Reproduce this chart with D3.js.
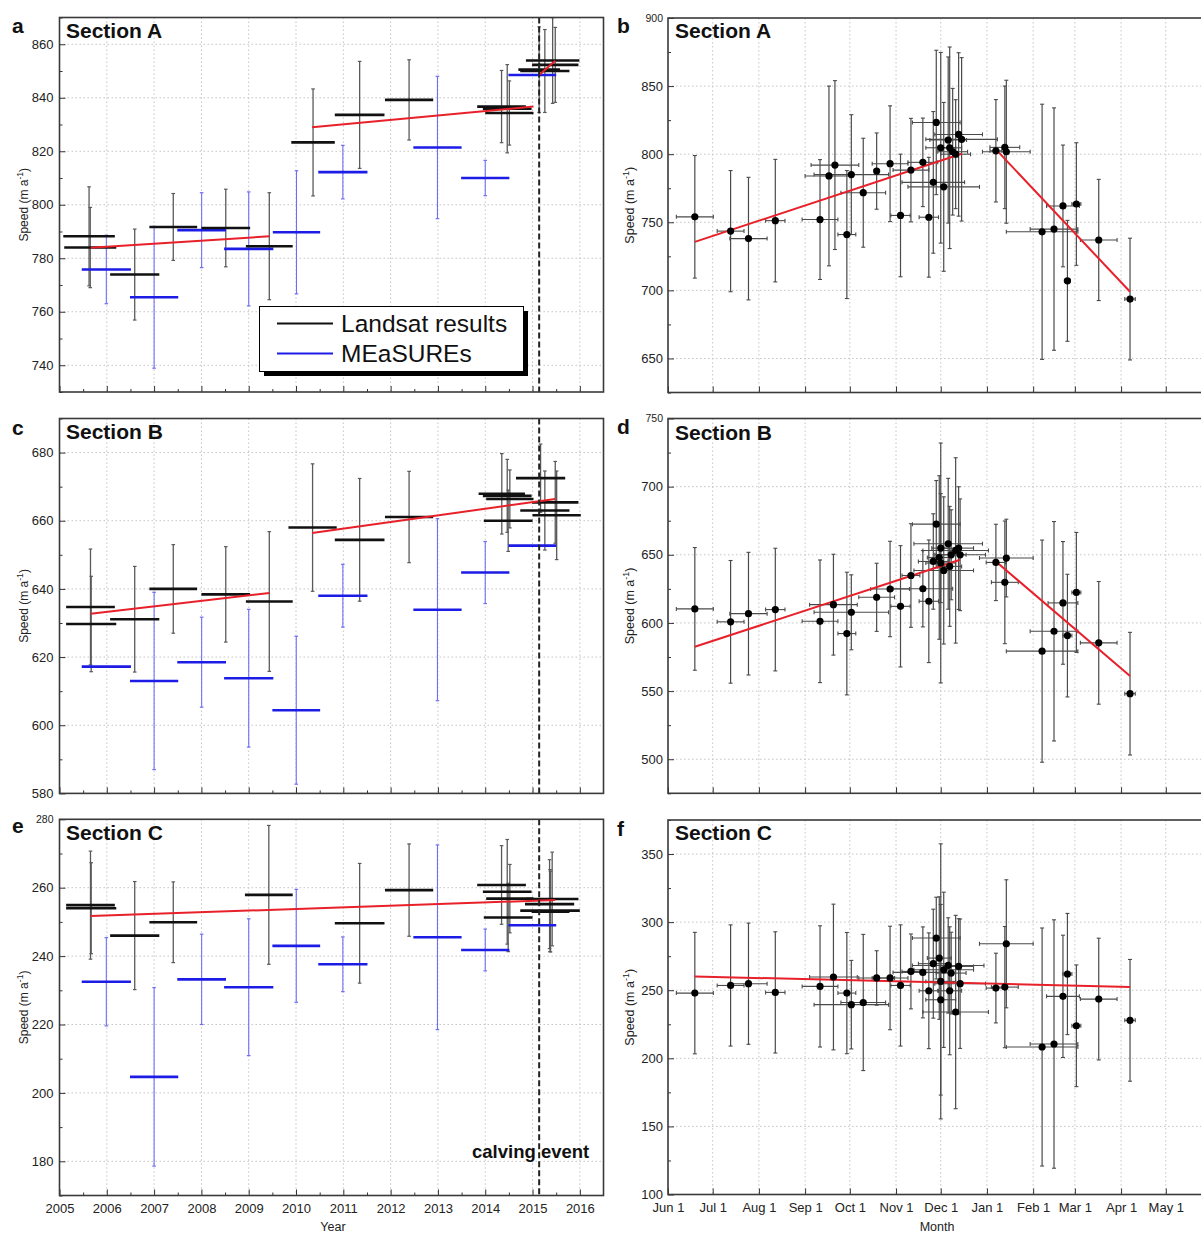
<!DOCTYPE html>
<html><head><meta charset="utf-8">
<script src="https://cdn.jsdelivr.net/npm/d3@7"></script>
<style>
body{margin:0;background:#fff}
svg{display:block;font-family:"Liberation Sans",Arial,sans-serif}
.grid{stroke:#c4c4c4;stroke-width:1;stroke-dasharray:1.5,2.5}
</style>
</head><body><svg id="c" width="1201" height="1234"></svg>
<script>
// ---------------- DATA ----------------
const yearTicks = [2005,2006,2007,2008,2009,2010,2011,2012,2013,2014,2015,2016];
const monthTickDates = ["2014-06-01","2014-07-01","2014-08-01","2014-09-01","2014-10-01","2014-11-01","2014-12-01","2015-01-01","2015-02-01","2015-03-01","2015-04-01","2015-05-01"];
const monthTickLabels = ["Jun 1","Jul 1","Aug 1","Sep 1","Oct 1","Nov 1","Dec 1","Jan 1","Feb 1","Mar 1","Apr 1","May 1"];
const calvingYear = 2015.14;

const yTicksA = [740,760,780,800,820,840,860];
const yTicksC = [580,600,620,640,660,680];
const yTicksE = [180,200,220,240,260,280];
const yTicksB = [650,700,750,800,850,900];
const yTicksD = [500,550,600,650,700,750];
const yTicksF = [100,150,200,250,300,350];

// [start year, end year, speed, error half-range]
const landsatA = [
 [2005.08,2006.17,788.2,18.5],[2005.10,2006.20,784.0,15],[2006.07,2007.11,773.9,17],
 [2006.90,2007.91,791.7,12.5],[2008.00,2009.03,791.3,14.5],[2008.94,2009.93,784.5,20],
 [2009.90,2010.82,823.3,20],[2010.82,2011.87,833.6,20],[2011.88,2012.90,839.2,15],
 [2013.83,2014.86,836.7,13.5],[2013.95,2014.98,835.9,16.5],[2014.00,2015.02,834.3,12],
 [2014.86,2015.99,853.9,16],[2014.99,2015.97,852.3,14],[2014.74,2015.78,850.0,15.5],
 [2014.70,2015.58,850.5,16]
];
const measuresA = [
 [2005.47,2006.51,775.8,12.8],[2006.49,2007.51,765.4,26.5],[2007.49,2008.52,790.5,14],
 [2008.48,2009.52,783.5,21.3],[2009.51,2010.51,789.7,23],[2010.47,2011.51,812.2,10],
 [2012.48,2013.50,821.4,26.6],[2013.49,2014.51,810.0,6.6],[2014.49,2015.50,848.5,0]
];
const trendA = [[[2005.66,783.9],[2009.44,788.2]],[[2010.34,829.0],[2015.02,836.7]],[[2015.14,848.5],[2015.48,853.8]]];

const landsatC = [
 [2005.14,2006.17,634.7,17],[2005.14,2006.20,629.7,14],[2006.07,2007.11,631.1,15.5],
 [2006.90,2007.91,640.0,13],[2008.00,2009.03,638.4,14],[2008.94,2009.93,636.3,20.5],
 [2009.84,2010.86,658.0,18.7],[2010.82,2011.87,654.4,18],[2011.88,2012.90,661.1,13.4],
 [2013.86,2014.84,667.9,11.8],[2013.95,2014.98,667.3,10.7],[2014.02,2015.02,666.4,8.5],
 [2013.97,2015.00,660.0,9],[2014.65,2015.69,672.5,10],[2014.99,2015.97,665.4,12],
 [2014.74,2015.78,663.0,11.6],[2015.00,2016.02,661.6,13]
];
const measuresC = [
 [2005.47,2006.51,617.2,0],[2006.49,2007.51,613.0,26],[2007.49,2008.52,618.5,13.2],
 [2008.48,2009.52,613.8,20.2],[2009.50,2010.51,604.4,21.7],[2010.47,2011.51,638.0,9.2],
 [2012.48,2013.50,633.9,26.7],[2013.49,2014.51,644.8,9.1],[2014.49,2015.50,652.7,0]
];
const trendC = [[[2005.66,632.7],[2009.44,638.8]],[[2010.34,656.4],[2015.48,666.4]]];

const landsatE = [
 [2005.14,2006.17,254.9,15.8],[2005.14,2006.20,254.0,13.3],[2006.07,2007.11,246.0,15.8],
 [2006.90,2007.91,249.9,11.8],[2008.92,2009.93,257.9,20.3],[2010.82,2011.87,249.6,17.5],
 [2011.88,2012.90,259.3,13.5],[2013.83,2014.86,260.8,11.5],[2013.95,2014.98,258.8,15.3],
 [2014.02,2015.02,256.8,10],[2013.97,2015.00,251.3,10],[2014.86,2015.97,256.7,13.7],
 [2014.84,2015.88,255.2,13],[2014.74,2016.00,253.3,12],[2014.98,2015.78,253.0,11.8]
];
const measuresE = [
 [2005.47,2006.51,232.5,12.9],[2006.49,2007.51,204.7,26.1],[2007.49,2008.52,233.2,13.2],
 [2008.48,2009.52,230.9,20],[2009.50,2010.51,243.0,16.5],[2010.47,2011.51,237.6,8],
 [2012.48,2013.50,245.5,27],[2013.49,2014.51,241.8,6.1],[2014.49,2015.50,249.0,0]
];
const trendE = [[[2005.66,251.7],[2015.48,256.4]]];

// [date, speed, x error (days), y error]
const pointsB = [
 ["2014-06-19",754,12.4,45],["2014-07-13",743.5,9,44.5],["2014-07-25",738,12.5,45],
 ["2014-08-12",751.2,6.5,45],["2014-09-11",752,12,44],["2014-09-17",784,16,66],
 ["2014-09-21",792,16,62],["2014-09-29",741,6,47],["2014-10-02",785,25,44],
 ["2014-10-10",771.7,15,40],["2014-10-19",787.6,0,28],["2014-10-28",793,12,42.5],
 ["2014-11-04",755,6.5,45],["2014-11-11",788.3,12,38],["2014-11-19",794,10,32.5],
 ["2014-11-23",753.7,6.5,44],["2014-11-26",779.3,21,52],["2014-11-28",823.3,16,53],
 ["2014-12-01",804.7,10,70],["2014-12-03",776,24,62],["2014-12-06",810.4,12.3,61],
 ["2014-12-07",804.7,8,74],["2014-12-09",801.8,10,46.5],["2014-12-11",800,10,40],
 ["2014-12-13",814.5,16,60],["2014-12-15",810.9,24,60],["2015-01-07",802.5,4,37.6],
 ["2015-01-13",805,10,45],["2015-01-14",801.8,16,52.5],["2015-02-07",743,24,93.7],
 ["2015-02-15",745,16,89],["2015-02-21",762,11,44.7],["2015-02-24",707,2,44.4],
 ["2015-03-02",763.4,3,45],["2015-03-17",737,12.3,44.5],["2015-04-07",693.6,3.5,44.7]
];
const trendB = [[["2014-06-19",735.6],["2014-12-15",800.3]],[["2015-01-07",803.5],["2015-04-07",699]]];

const pointsD = [
 ["2014-06-19",610.3,12.4,45],["2014-07-13",600.8,9,45],["2014-07-25",606.8,12.5,45],
 ["2014-08-12",609.8,6.5,45],["2014-09-11",601.2,12,45],["2014-09-20",613.4,16,37],
 ["2014-09-29",592.2,6,45],["2014-10-02",607.8,25,27.5],["2014-10-19",618.8,12,25],
 ["2014-10-28",624.9,13,35],["2014-11-04",612.2,6.5,44.5],["2014-11-11",634.8,6,38],
 ["2014-11-19",625.1,20,28],["2014-11-23",615.9,6.5,45],["2014-11-26",645.1,10,35],
 ["2014-11-28",672.5,16,32],["2014-11-30",648,8,60],["2014-12-01",644,10,88],
 ["2014-12-01",654.9,6,40],["2014-12-03",638.5,20,54],["2014-12-06",658.1,23,48],
 ["2014-12-07",641.5,8,44],["2014-12-08",650,10,33],["2014-12-11",653.2,22,68],
 ["2014-12-13",654.9,10,45],["2014-12-14",650,17,41],["2015-01-07",644.4,6.5,28],
 ["2015-01-13",629.8,9,45],["2015-01-14",647.6,18,28.5],["2015-02-07",579.3,24,81.5],
 ["2015-02-15",593.9,16,80.5],["2015-02-21",614.7,10,45],["2015-02-24",590.7,3,45],
 ["2015-03-02",622.4,3,44],["2015-03-17",585.4,12.3,45],["2015-04-07",548.1,3.5,45]
];
const trendD = [[["2014-06-19",582.5],["2014-12-14",646.4]],[["2015-01-07",645.1],["2015-04-07",561]]];

const pointsF = [
 ["2014-06-19",247.9,12.4,44.6],["2014-07-13",253.5,9,44.5],["2014-07-25",254.8,12.5,44.5],
 ["2014-08-12",248.4,6.5,44.5],["2014-09-11",252.8,12,44.5],["2014-09-20",259.7,16,53.5],
 ["2014-09-29",247.9,6,44.5],["2014-10-02",239.4,25,32.5],["2014-10-10",241,15,50],
 ["2014-10-19",259,12,20],["2014-10-28",259,12,38],["2014-11-04",253.5,6.5,44.5],
 ["2014-11-11",263.8,6,27.5],["2014-11-19",263.1,20,33.4],["2014-11-23",249.6,6.5,42.5],
 ["2014-11-26",269.5,10,40],["2014-11-28",288.3,16,30],["2014-11-30",273.6,8,45],
 ["2014-12-01",256.5,10,101],["2014-12-01",243,10,70],["2014-12-03",265,20,57],
 ["2014-12-06",268.2,24,35],["2014-12-07",249.6,8,47],["2014-12-08",262.6,10,30],
 ["2014-12-11",234,22,71],["2014-12-13",267.5,10,35],["2014-12-14",254.8,17,47.5],
 ["2015-01-07",251.6,6.5,25.6],["2015-01-13",252.3,9,44.5],["2015-01-14",284.1,18,47],
 ["2015-02-07",208.3,24,87.4],["2015-02-15",210.5,16,91.2],["2015-02-21",245.5,11,44.9],
 ["2015-02-24",261.9,3,44.5],["2015-03-02",223.9,3,44.7],["2015-03-17",243.5,12.3,44.7],
 ["2015-04-07",227.9,3.5,44.7]
];
const trendF = [[["2014-06-19",260.1],["2015-04-07",252.3]]];

// ---------------- DRAWING ----------------
const svg = d3.select("#c");
const parse = d3.utcParse("%Y-%m-%d");
const DAY = 864e5;
const FONT = '"Liberation Sans",Arial,sans-serif';
const BLACK = "#111", GREYERR = "#5a5a5a", BLUE = "#1c1ce6", BLUEERR = "#6f6ff5", RED = "#e8202a";
const TICKFONT = 13;

const leftPanels = [
 {letter:"a", title:"Section A", top:17.5, bottom:392, domain:[730,870], ticks:yTicksA, landsat:landsatA, measures:measuresA, trend:trendA, legend:true, letterY:33, titleY:38},
 {letter:"c", title:"Section B", top:418.5, bottom:793.4, domain:[580,690], ticks:yTicksC, landsat:landsatC, measures:measuresC, trend:trendC, letterY:435, titleY:439},
 {letter:"e", title:"Section C", top:819.3, bottom:1195.5, domain:[170,280], ticks:yTicksE, landsat:landsatE, measures:measuresE, trend:trendE, labels:true, calving:true, letterY:833, titleY:840}
];
const rightPanels = [
 {letter:"b", title:"Section A", top:18, bottom:392.5, domain:[625,900], ticks:yTicksB, points:pointsB, trend:trendB, letterY:33, titleY:38},
 {letter:"d", title:"Section B", top:418.5, bottom:793.3, domain:[475,750], ticks:yTicksD, points:pointsD, trend:trendD, letterY:434, titleY:440},
 {letter:"f", title:"Section C", top:820, bottom:1194.5, domain:[100,375], ticks:yTicksF, points:pointsF, trend:trendF, labels:true, letterY:836, titleY:840}
];

function styleAxis(ax, size){
  ax.select(".domain").remove();
  ax.selectAll("line").attr("stroke","#333").attr("stroke-width",1);
  ax.selectAll("text").attr("font-family",FONT).attr("font-size",size).attr("fill","#222");
}

function yTitle(x, yc, size){
  const t = svg.append("text").attr("transform",`translate(${x},${yc}) rotate(-90)`)
    .attr("text-anchor","middle").attr("font-size",size).attr("fill","#222");
  t.append("tspan").text("Speed (m a");
  t.append("tspan").attr("font-size",size*0.72).attr("dy",-size*0.4).text("-1");
  t.append("tspan").attr("dy",size*0.4).text(")");
}

function drawLeft(p){
  const L = 59.5, R = 603.5;
  const x = d3.scaleLinear().domain([2005,2016.5]).range([L,R]);
  const y = d3.scaleLinear().domain(p.domain).range([p.bottom,p.top]);
  const g = svg.append("g");
  // grid
  g.selectAll(null).data(yearTicks.filter(v=>v>2005)).join("line").attr("class","grid")
    .attr("x1",d=>x(d)).attr("x2",d=>x(d)).attr("y1",p.top).attr("y2",p.bottom);
  g.selectAll(null).data(p.ticks.filter(v=>v>p.domain[0]&&v<p.domain[1])).join("line").attr("class","grid")
    .attr("x1",L).attr("x2",R).attr("y1",d=>y(d)).attr("y2",d=>y(d));
  // axes
  const xa = g.append("g").attr("transform",`translate(0,${p.bottom})`)
    .call(d3.axisBottom(x).tickValues(yearTicks).tickSizeInner(-6).tickSizeOuter(0).tickPadding(8)
      .tickFormat(p.labels? d3.format("d") : ""));
  styleAxis(xa, TICKFONT);
  const xm = g.append("g").attr("transform",`translate(0,${p.bottom})`)
    .call(d3.axisBottom(x).tickValues(yearTicks.map(v=>v+0.5).filter(v=>v<2016.5)).tickSizeInner(-3).tickSizeOuter(0).tickFormat(""));
  styleAxis(xm, 10);
  const ya = g.append("g").attr("transform",`translate(${L},0)`)
    .call(d3.axisLeft(y).tickValues(p.ticks).tickSizeInner(-6).tickSizeOuter(0).tickPadding(6));
  styleAxis(ya, TICKFONT);
  ya.selectAll("text").filter(d=>d===p.domain[1]).attr("font-size",10.5);
  const ym = g.append("g").attr("transform",`translate(${L},0)`)
    .call(d3.axisLeft(y).tickValues(d3.range(p.domain[0],p.domain[1]+1,10).filter(v=>!p.ticks.includes(v))).tickSizeInner(-3).tickSizeOuter(0).tickFormat(""));
  styleAxis(ym, 10);

  const errs = (data, col, width) => {
    const d2 = data.filter(d=>d[3]>0);
    g.selectAll(null).data(d2).join("line").attr("stroke",col).attr("stroke-width",width)
      .attr("x1",d=>x((d[0]+d[1])/2)).attr("x2",d=>x((d[0]+d[1])/2))
      .attr("y1",d=>y(d[2]-d[3])).attr("y2",d=>y(d[2]+d[3]));
    [1,-1].forEach(s=>{
      g.selectAll(null).data(d2).join("line").attr("stroke",col).attr("stroke-width",1.2)
        .attr("x1",d=>x((d[0]+d[1])/2)-1.8).attr("x2",d=>x((d[0]+d[1])/2)+1.8)
        .attr("y1",d=>y(d[2]+s*d[3])).attr("y2",d=>y(d[2]+s*d[3]));
    });
  };
  errs(p.measures, BLUEERR, 1.1);
  errs(p.landsat, GREYERR, 1.3);
  g.selectAll(null).data(p.measures).join("line").attr("stroke",BLUE).attr("stroke-width",2.6)
    .attr("x1",d=>x(d[0])).attr("x2",d=>x(d[1])).attr("y1",d=>y(d[2])).attr("y2",d=>y(d[2]));
  g.selectAll(null).data(p.landsat).join("line").attr("stroke",BLACK).attr("stroke-width",2.6)
    .attr("x1",d=>x(d[0])).attr("x2",d=>x(d[1])).attr("y1",d=>y(d[2])).attr("y2",d=>y(d[2]));
  const line = d3.line().x(d=>x(d[0])).y(d=>y(d[1]));
  g.selectAll(null).data(p.trend).join("path").attr("d",line).attr("fill","none")
    .attr("stroke",RED).attr("stroke-width",2);
  // calving event
  g.append("line").attr("x1",x(calvingYear)).attr("x2",x(calvingYear)).attr("y1",p.top).attr("y2",p.bottom)
    .attr("stroke","#222").attr("stroke-width",2).attr("stroke-dasharray","6,3");
  // frame
  g.append("rect").attr("x",L).attr("y",p.top).attr("width",R-L).attr("height",p.bottom-p.top)
    .attr("fill","none").attr("stroke","#3a3a3a").attr("stroke-width",1.6);
  // letters / titles
  svg.append("text").attr("x",12).attr("y",p.letterY).attr("font-size",21).attr("font-weight","bold").attr("fill","#111").text(p.letter);
  svg.append("text").attr("x",66).attr("y",p.titleY).attr("font-size",21).attr("font-weight","bold").attr("fill","#111").text(p.title);
  yTitle(28,(p.top+p.bottom)/2,12);
  if(p.calving){
    svg.append("text").attr("x",472).attr("y",p.bottom-38).attr("font-size",18.5).attr("font-weight","bold").attr("fill","#111").text("calving event");
  }
  if(p.legend){
    const lg = svg.append("g");
    lg.append("rect").attr("x",264).attr("y",311).attr("width",264).attr("height",65).attr("fill","#000");
    lg.append("rect").attr("x",259.5).attr("y",306.5).attr("width",264).attr("height",65).attr("fill","#fff").attr("stroke","#000").attr("stroke-width",1);
    lg.append("line").attr("x1",277).attr("x2",333).attr("y1",323.5).attr("y2",323.5).attr("stroke",BLACK).attr("stroke-width",2);
    lg.append("line").attr("x1",277).attr("x2",333).attr("y1",353.5).attr("y2",353.5).attr("stroke",BLUE).attr("stroke-width",2);
    lg.append("text").attr("x",341).attr("y",332).attr("font-size",24.5).attr("fill","#111").text("Landsat results");
    lg.append("text").attr("x",341).attr("y",362).attr("font-size",24.5).attr("fill","#111").text("MEaSUREs");
  }
}

function drawRight(p){
  const L = 668, R = 1212;
  const x = d3.scaleUtc().domain([parse("2014-06-01"),parse("2015-06-01")]).range([L,R]);
  const y = d3.scaleLinear().domain(p.domain).range([p.bottom,p.top]);
  const g = svg.append("g");
  const mDates = monthTickDates.map(parse);
  g.selectAll(null).data(mDates.slice(1)).join("line").attr("class","grid")
    .attr("x1",d=>x(d)).attr("x2",d=>x(d)).attr("y1",p.top).attr("y2",p.bottom);
  g.selectAll(null).data(p.ticks.filter(v=>v>p.domain[0]&&v<p.domain[1])).join("line").attr("class","grid")
    .attr("x1",L).attr("x2",R).attr("y1",d=>y(d)).attr("y2",d=>y(d));
  const xa = g.append("g").attr("transform",`translate(0,${p.bottom})`)
    .call(d3.axisBottom(x).tickValues(mDates).tickSizeInner(-6).tickSizeOuter(0).tickPadding(8)
      .tickFormat((d,i)=>p.labels? monthTickLabels[i] : ""));
  styleAxis(xa, TICKFONT);
  const ya = g.append("g").attr("transform",`translate(${L},0)`)
    .call(d3.axisLeft(y).tickValues(p.ticks).tickSizeInner(-6).tickSizeOuter(0).tickPadding(5));
  styleAxis(ya, TICKFONT);
  ya.selectAll("text").filter(d=>d===p.domain[1]).attr("font-size",10.5);
  const ym = g.append("g").attr("transform",`translate(${L},0)`)
    .call(d3.axisLeft(y).tickValues(d3.range(p.domain[0],p.domain[1]+1,25).filter(v=>!p.ticks.includes(v))).tickSizeInner(-3).tickSizeOuter(0).tickFormat(""));
  styleAxis(ym, 10);

  const pts = p.points.map(d=>({t:parse(d[0]),v:d[1],ex:d[2],ey:d[3]}));
  const ec = "#4a4a4a";
  g.selectAll(null).data(pts).join("line").attr("stroke",ec).attr("stroke-width",1.2)
    .attr("x1",d=>x(d.t)).attr("x2",d=>x(d.t)).attr("y1",d=>y(d.v-d.ey)).attr("y2",d=>y(d.v+d.ey));
  [1,-1].forEach(s=>{
    g.selectAll(null).data(pts).join("line").attr("stroke",ec).attr("stroke-width",1.1)
      .attr("x1",d=>x(d.t)-2).attr("x2",d=>x(d.t)+2).attr("y1",d=>y(d.v+s*d.ey)).attr("y2",d=>y(d.v+s*d.ey));
  });
  const hx = pts.filter(d=>d.ex>0);
  g.selectAll(null).data(hx).join("line").attr("stroke",ec).attr("stroke-width",1.1)
    .attr("x1",d=>x(new Date(+d.t-d.ex*DAY))).attr("x2",d=>x(new Date(+d.t+d.ex*DAY))).attr("y1",d=>y(d.v)).attr("y2",d=>y(d.v));
  [1,-1].forEach(s=>{
    g.selectAll(null).data(hx).join("line").attr("stroke",ec).attr("stroke-width",1.1)
      .attr("x1",d=>x(new Date(+d.t+s*d.ex*DAY))).attr("x2",d=>x(new Date(+d.t+s*d.ex*DAY)))
      .attr("y1",d=>y(d.v)-2).attr("y2",d=>y(d.v)+2);
  });
  const line = d3.line().x(d=>x(parse(d[0]))).y(d=>y(d[1]));
  g.selectAll(null).data(p.trend).join("path").attr("d",line).attr("fill","none")
    .attr("stroke",RED).attr("stroke-width",2);
  g.selectAll(null).data(pts).join("circle").attr("cx",d=>x(d.t)).attr("cy",d=>y(d.v)).attr("r",3.6).attr("fill","#000");
  g.append("rect").attr("x",L).attr("y",p.top).attr("width",R-L).attr("height",p.bottom-p.top)
    .attr("fill","none").attr("stroke","#3a3a3a").attr("stroke-width",1.6);
  svg.append("text").attr("x",617).attr("y",p.letterY).attr("font-size",21).attr("font-weight","bold").attr("fill","#111").text(p.letter);
  svg.append("text").attr("x",675).attr("y",p.titleY).attr("font-size",21).attr("font-weight","bold").attr("fill","#111").text(p.title);
  yTitle(634,(p.top+p.bottom)/2,12.5);
}

leftPanels.forEach(drawLeft);
rightPanels.forEach(drawRight);
svg.append("text").attr("x",333).attr("y",1231).attr("text-anchor","middle").attr("font-size",12.5).attr("fill","#222").text("Year");
svg.append("text").attr("x",937).attr("y",1231).attr("text-anchor","middle").attr("font-size",12.5).attr("fill","#222").text("Month");
</script></body></html>
